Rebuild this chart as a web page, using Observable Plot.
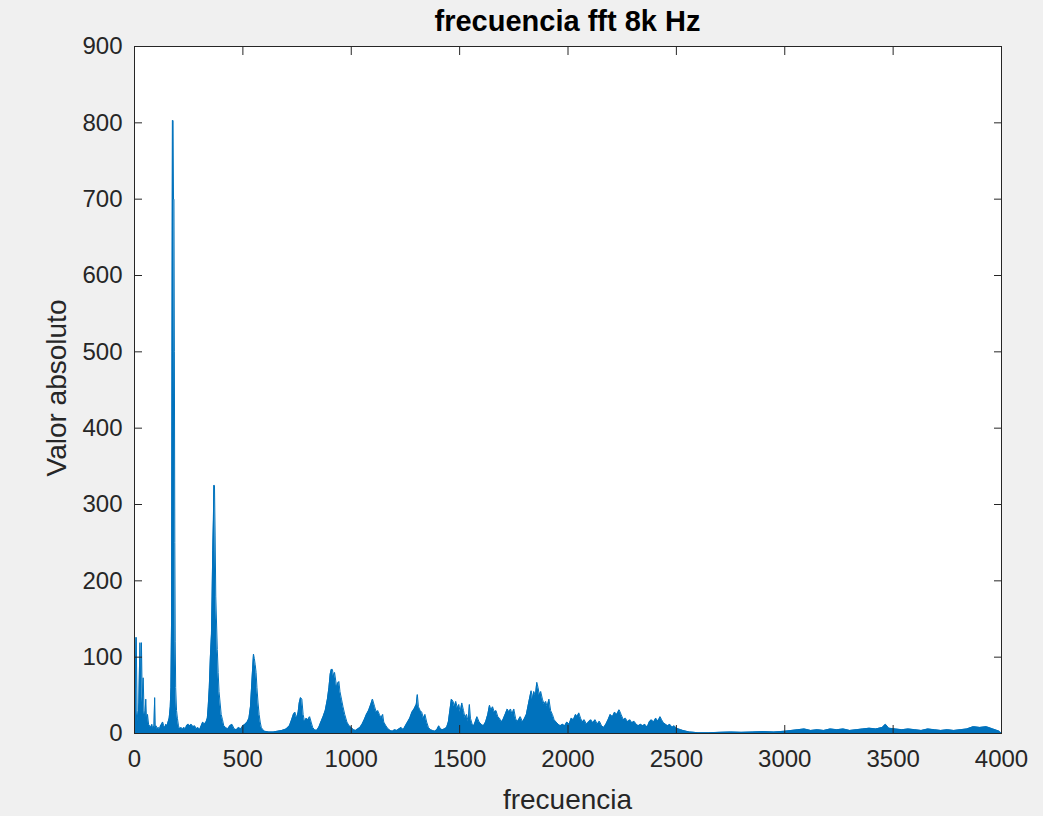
<!DOCTYPE html>
<html><head><meta charset="utf-8">
<script src="https://cdn.jsdelivr.net/npm/d3@7"></script>
<script src="https://cdn.jsdelivr.net/npm/@observablehq/plot@0.6"></script>
<style>
body{margin:0;background:#fff;}
#wrap{position:relative;width:1043px;height:816px;background:#f0f0f0;overflow:hidden;font-family:"Liberation Sans",Arial,Helvetica,sans-serif;}
#title{position:absolute;left:134px;width:867px;top:4px;text-align:center;font-weight:bold;font-size:29px;line-height:34px;color:#000;}
#ylab{position:absolute;left:57px;top:388px;transform:translate(-50%,-50%) rotate(-90deg);font-size:28px;line-height:32px;color:#262626;white-space:nowrap;}
#xlab{position:absolute;left:134px;width:867px;top:784px;text-align:center;font-size:28px;line-height:32px;color:#262626;}
#wrap svg{position:absolute;left:0;top:0;}
</style></head>
<body>
<div id="wrap">
<div id="title">frecuencia fft 8k Hz</div>
<div id="ylab">Valor absoluto</div>
<div id="xlab">frecuencia</div>
</div>
<script>
const xTicks = [0,500,1000,1500,2000,2500,3000,3500,4000];
const yTicks = [0,100,200,300,400,500,600,700,800,900];

const freq = [0,2,5,8,12,16,20,25,28,32,36,40,44,48,52,56,60,65,70,75,80,85,90,93,96,100,105,110,115,120,125,130,135,140,145,150,155,160,165,168,171,173,175,178,180,182,184,186,188,190,194,198,203,208,215,220,228,235,240,248,255,262,270,278,285,292,300,308,315,322,330,336,340,345,350,355,358,361,364,366,369,372,375,378,382,386,390,395,400,406,412,420,430,440,450,460,470,480,490,500,510,520,528,535,540,545,549,553,557,561,565,570,575,580,585,592,600,620,640,660,680,700,715,725,733,740,748,755,760,766,772,778,785,792,800,808,815,822,830,840,850,860,870,880,890,897,903,908,913,918,923,928,933,938,943,948,955,962,970,980,990,1000,1010,1020,1030,1040,1050,1060,1070,1080,1090,1098,1103,1108,1115,1122,1130,1138,1145,1150,1160,1170,1180,1190,1200,1210,1220,1230,1240,1250,1260,1270,1280,1290,1300,1305,1310,1318,1325,1333,1340,1348,1356,1365,1375,1385,1395,1404,1412,1420,1430,1440,1448,1455,1462,1470,1476,1482,1490,1496,1503,1510,1518,1525,1532,1540,1545,1550,1558,1565,1572,1580,1590,1600,1610,1620,1630,1638,1645,1652,1660,1668,1676,1684,1692,1700,1710,1720,1728,1735,1742,1750,1758,1765,1772,1780,1790,1800,1808,1815,1822,1830,1836,1842,1850,1856,1862,1868,1874,1882,1890,1897,1904,1912,1920,1928,1936,1945,1955,1965,1975,1985,1995,2005,2015,2025,2035,2042,2050,2058,2066,2075,2085,2095,2105,2115,2125,2135,2145,2155,2165,2175,2185,2195,2205,2215,2225,2236,2245,2255,2265,2275,2285,2295,2305,2315,2325,2335,2345,2355,2365,2375,2385,2395,2405,2415,2425,2432,2440,2450,2460,2470,2480,2490,2500,2510,2520,2530,2545,2560,2580,2600,2650,2700,2750,2800,2850,2900,2950,3000,3030,3060,3090,3120,3150,3180,3210,3240,3270,3300,3330,3360,3390,3420,3450,3465,3480,3510,3540,3570,3600,3630,3660,3690,3720,3750,3780,3810,3840,3870,3900,3930,3960,3990,4000];

const amp = [0,126,60,126,30,15,40,119,60,119,40,73,30,20,45,15,25,12,10,8,12,6,10,47,8,10,6,8,5,10,12,15,10,8,12,10,15,20,35,60,150,500,803,803,700,700,500,250,120,60,30,20,10,6,8,5,8,6,10,12,10,12,9,10,6,8,5,10,15,12,15,20,35,60,100,130,180,240,280,325,325,260,180,150,110,80,55,40,25,18,10,8,6,10,12,6,5,8,6,10,12,15,20,35,60,85,104,98,90,80,60,40,25,15,8,5,3,2,2,3,4,6,10,18,25,28,20,28,40,47,45,25,15,20,18,22,15,8,5,4,8,15,22,30,45,60,78,84,84,75,80,70,60,66,68,55,45,35,25,15,10,8,5,4,6,8,12,18,25,30,38,45,40,35,28,30,25,20,25,15,10,6,4,3,5,4,6,8,5,10,15,20,28,32,38,51,35,30,28,20,25,15,8,5,4,3,5,10,6,5,6,8,15,30,45,42,35,42,33,38,28,40,30,20,25,15,38,20,12,10,15,22,15,12,10,15,25,37,30,35,28,30,22,20,15,18,25,32,28,32,25,32,20,15,18,22,15,20,25,35,45,56,45,55,50,67,60,50,55,45,38,42,35,45,30,25,18,15,12,10,12,10,15,12,20,18,25,22,27,20,15,18,12,15,18,14,18,12,16,10,8,12,18,25,22,28,25,31,25,18,20,15,18,14,16,12,10,12,10,12,8,15,18,15,20,16,22,18,14,12,10,12,8,10,7,6,5,4,3,2,1.5,1,1,1.5,2,1.5,2,2.5,2,3,4,5,6,4,5,4,6,5,6,4,5,6,7,6,8,12,7,6,5,6,5,4,6,5,4,5,4,5,6,9,8,9,6,3,0];

const data = freq.map((f, i) => ({f, a: amp[i]}));
const blue = "#0072BD";
const chart = Plot.plot({
  width: 1043, height: 816,
  marginLeft: 134, marginRight: 42, marginTop: 46, marginBottom: 83,
  style: {background: "transparent", fontSize: "24px", fontFamily: "'Liberation Sans', Arial, Helvetica, sans-serif", color: "#262626"},
  x: {domain: [0, 4000]},
  y: {domain: [0, 900]},
  marks: [
    Plot.frame({fill: "white"}),
    Plot.areaY(data, {x: "f", y: "a", fill: blue}),
    Plot.lineY(data, {x: "f", y: "a", stroke: blue, strokeWidth: 1}),
    Plot.axisX(xTicks, {anchor: "bottom", tickSize: -8, tickFormat: () => "", label: null}),
    Plot.axisX(xTicks, {anchor: "top", tickSize: -8, tickFormat: () => "", label: null}),
    Plot.axisX(xTicks, {anchor: "bottom", tickSize: 0, tickPadding: 16, tickFormat: d => String(d), label: null}),
    Plot.axisY(yTicks, {anchor: "left", tickSize: -8, tickFormat: () => "", label: null}),
    Plot.axisY(yTicks, {anchor: "right", tickSize: -8, tickFormat: () => "", label: null}),
    Plot.axisY(yTicks, {anchor: "left", tickSize: 0, tickPadding: 12, tickFormat: d => String(d), label: null}),
    Plot.frame({stroke: "#262626", strokeWidth: 1})
  ]
});
document.getElementById("wrap").appendChild(chart);
</script>
</body></html>
